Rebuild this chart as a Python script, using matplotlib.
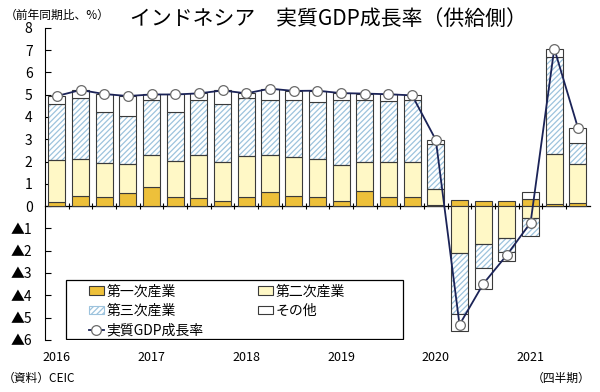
import numpy as np
import matplotlib
matplotlib.use("Agg")
import matplotlib.pyplot as plt
from matplotlib.transforms import blended_transform_factory

plt.rcParams['font.family'] = ['Noto Sans CJK JP', 'DejaVu Sans']
plt.rcParams['hatch.linewidth'] = 0.9

# ==============================
# DATA (contribution to yoy growth, %pt)
# ==============================
quarters = ["2016Q1", "2016Q2", "2016Q3", "2016Q4",
            "2017Q1", "2017Q2", "2017Q3", "2017Q4",
            "2018Q1", "2018Q2", "2018Q3", "2018Q4",
            "2019Q1", "2019Q2", "2019Q3", "2019Q4",
            "2020Q1", "2020Q2", "2020Q3", "2020Q4",
            "2021Q1", "2021Q2", "2021Q3"]
year_labels = ["2016", "2017", "2018", "2019", "2020", "2021"]

primary = [0.18, 0.46, 0.43, 0.60, 0.88, 0.43, 0.37, 0.22,
           0.40, 0.63, 0.46, 0.40, 0.22, 0.70, 0.40, 0.40,
           0.03, 0.28, 0.25, 0.25, 0.33, 0.10, 0.15]
secondary = [1.87, 1.67, 1.50, 1.30, 1.41, 1.59, 1.91, 1.78,
             1.86, 1.66, 1.74, 1.71, 1.64, 1.28, 1.60, 1.60,
             0.75, -2.10, -1.69, -1.42, -0.52, 2.22, 1.72]
tertiary = [2.55, 2.70, 2.30, 2.15, 2.46, 2.21, 2.50, 2.60,
            2.57, 2.49, 2.58, 2.58, 2.92, 2.77, 2.70, 2.75,
            2.02, -2.74, -1.08, -0.64, -0.84, 4.35, 0.96]
other = [0.34, 0.38, 0.80, 0.89, 0.26, 0.78, 0.28, 0.59,
         0.23, 0.49, 0.39, 0.49, 0.29, 0.30, 0.32, 0.22,
         0.17, -0.76, -0.97, -0.38, 0.29, 0.40, 0.68]
gdp = [4.94, 5.21, 5.03, 4.94, 5.01, 5.01, 5.06, 5.19,
       5.06, 5.27, 5.17, 5.18, 5.07, 5.05, 5.02, 4.97,
       2.97, -5.32, -3.49, -2.19, -0.74, 7.07, 3.51]

series_names = ["第一次産業", "第二次産業", "第三次産業", "その他"]
COL_PRIMARY = "#EDC03A"
COL_SECONDARY = "#FFF8C6"
COL_TERTIARY_HATCH = "#9DC3DD"
COL_OTHER = "#FFFFFF"
EDGE = "#3A3A3A"
LINE = "#1B2357"

# ==============================
# PLOT
# ==============================
fig = plt.figure(figsize=(6.0, 3.92), dpi=100)
ax = fig.add_axes([0.075, 0.133, 0.908, 0.796])

x = np.arange(len(quarters))
width = 0.72
pos_base = np.zeros(len(x))
neg_base = np.zeros(len(x))

handles = {}
for name, vals, fc in zip(series_names,
                          [primary, secondary, tertiary, other],
                          [COL_PRIMARY, COL_SECONDARY, None, COL_OTHER]):
    vals = np.array(vals)
    bottoms = np.where(vals >= 0, pos_base, neg_base)
    if fc is None:
        # hatched layer then outline
        ax.bar(x, vals, width, bottom=bottoms, color="white",
               edgecolor=COL_TERTIARY_HATCH, hatch="//////", linewidth=0, zorder=2)
        ax.bar(x, vals, width, bottom=bottoms, color="none",
               edgecolor=EDGE, linewidth=0.8, zorder=3)
        h = plt.Rectangle((0, 0), 1, 1, facecolor="white",
                          edgecolor=COL_TERTIARY_HATCH, hatch="//////", linewidth=0.8)
    else:
        ax.bar(x, vals, width, bottom=bottoms, color=fc,
               edgecolor=EDGE, linewidth=0.8, zorder=3)
        h = plt.Rectangle((0, 0), 1, 1, facecolor=fc, edgecolor=EDGE, linewidth=0.8)
    handles[name] = h
    pos_base = pos_base + np.where(vals >= 0, vals, 0)
    neg_base = neg_base + np.where(vals < 0, vals, 0)

line, = ax.plot(x, gdp, color=LINE, lw=1.3, marker="o", ms=7,
                mfc="white", mec="#6A6A6A", mew=0.9, zorder=5)

ax.set_xlim(-0.5, len(x) - 0.5)
ax.set_ylim(-6, 8)
ax.set_yticks(np.arange(-6, 9))
ax.set_yticklabels([f"▲{abs(v)}" if v < 0 else str(v) for v in range(-6, 9)],
                   fontsize=10)
ax.tick_params(axis="y", direction="in", length=4, width=0.8, pad=9)

for s in ["top", "right"]:
    ax.spines[s].set_visible(False)
ax.spines["left"].set_linewidth(0.8)
ax.spines["bottom"].set_position(("data", 0))
ax.spines["bottom"].set_linewidth(0.9)
ax.set_xticks(x[:-1] + 0.5)
ax.set_xticklabels([])
ax.tick_params(axis="x", direction="inout", length=5, width=0.8)

trans = blended_transform_factory(ax.transData, ax.transAxes)
for i, yl in enumerate(year_labels):
    ax.text(i * 4, -0.035, yl, transform=trans, ha="center", va="top", fontsize=9)

fig.text(0.008, 0.962, "（前年同期比、%）", fontsize=8.5, ha="left", va="center")
fig.text(0.548, 0.952, "インドネシア　実質GDP成長率（供給側）", fontsize=15,
         ha="center", va="center")
fig.text(0.005, 0.035, "（資料）CEIC", fontsize=8.5, ha="left", va="center")
fig.text(0.985, 0.035, "（四半期）", fontsize=8.5, ha="right", va="center")

# legend box drawn separately so columns can sit where they do in the original
box = plt.Rectangle((0.0385, 0.003), 0.618, 0.189, transform=ax.transAxes,
                    facecolor="white", edgecolor="black", linewidth=0.9, zorder=9)
ax.add_patch(box)
leg_handles = [handles["第一次産業"], handles["第三次産業"], line,
               handles["第二次産業"], handles["その他"]]
leg_labels = ["第一次産業", "第三次産業", "実質GDP成長率", "第二次産業", "その他"]
leg = ax.legend(leg_handles, leg_labels, ncol=2, loc="upper left",
                bbox_to_anchor=(0.075, 0.186), frameon=False,
                fontsize=10, borderpad=0.2, columnspacing=3.9,
                handlelength=1.1, handleheight=0.6, handletextpad=0.2,
                labelspacing=0.38, borderaxespad=0)
leg.set_zorder(10)

fig.savefig("out.png", dpi=100)
